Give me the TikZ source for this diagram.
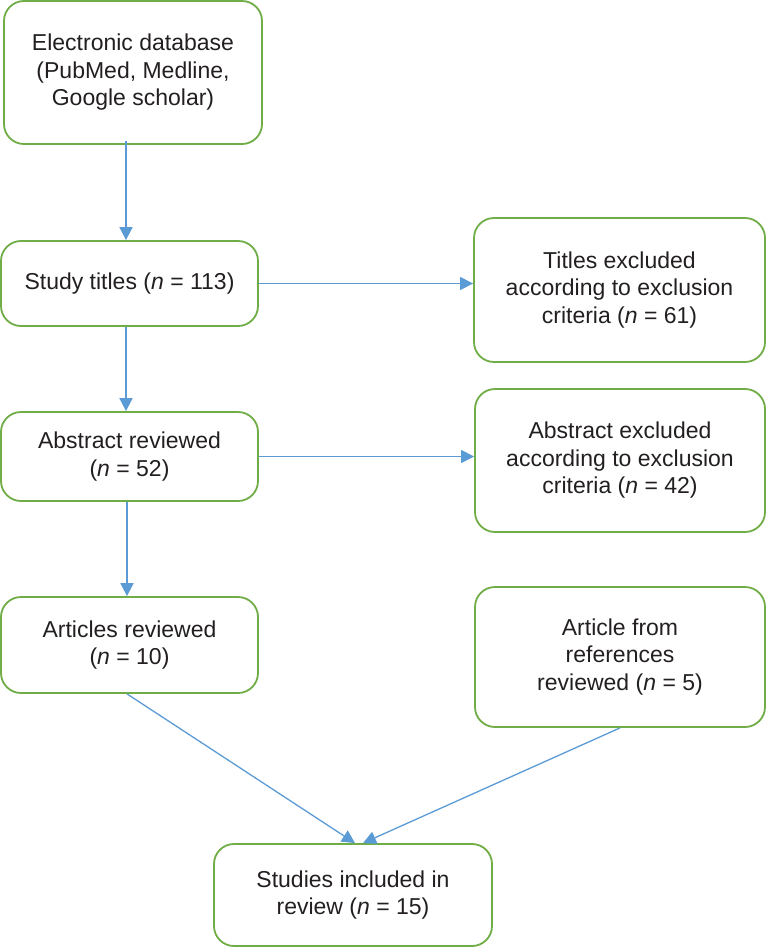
\documentclass[tikz,border=0pt]{standalone}
\usepackage{fontspec}
\setmainfont{Liberation Sans}
\usetikzlibrary{arrows.meta}
\definecolor{boxgreen}{RGB}{112,173,71}
\definecolor{arrblue}{RGB}{91,155,213}
\definecolor{txt}{RGB}{35,31,32}
\begin{document}
\begin{tikzpicture}[x=1pt,y=-1pt,
  box/.style={draw=boxgreen,line width=1.8pt,rounded corners=20pt,align=center,
    text=txt,font=\fontsize{23}{27.5}\selectfont,inner sep=0pt},
  arr/.style={draw=arrblue,line width=1.8pt,-{Triangle[length=13pt,width=13pt]}},
  arrthin/.style={draw=arrblue,line width=1.3pt,-{Triangle[length=13pt,width=13pt]}}]
\useasboundingbox (0,0) rectangle (766,947);
\node[box,minimum width=258pt,minimum height=143pt] (b1) at (133,72.5)
  {Electronic database\\(PubMed, Medline,\\Google scholar)};
\node[box,minimum width=257pt,minimum height=85pt] (b2) at (129.5,283.5)
  {Study titles (\textit{n} = 113)};
\node[box,minimum width=291pt,minimum height=144pt] (b3) at (619.5,290)
  {Titles excluded\\according to exclusion\\criteria (\textit{n} = 61)};
\node[box,minimum width=257pt,minimum height=89pt] (b4) at (129.5,456.5)
  {Abstract reviewed\\(\textit{n} = 52)};
\node[box,minimum width=290pt,minimum height=143pt] (b5) at (620,460.5)
  {Abstract excluded\\according to exclusion\\criteria (\textit{n} = 42)};
\node[box,minimum width=257pt,minimum height=96pt] (b6) at (129.5,645)
  {Articles reviewed\\(\textit{n} = 10)};
\node[box,minimum width=290pt,minimum height=140pt] (b7) at (620,657)
  {Article from\\references\\reviewed (\textit{n} = 5)};
\node[box,minimum width=278pt,minimum height=102pt] (b8) at (353,895)
  {Studies included in\\review (\textit{n} = 15)};
\coordinate (ax) at (126,0);
\coordinate (bx) at (127,0);
\coordinate (cx) at (620,0);
\draw[arr] ([yshift=4pt]b1.south -| ax) -- (b2.north -| ax);
\draw[arr] (b2.south -| ax) -- (b4.north -| ax);
\draw[arr] (b4.south -| bx) -- (b6.north -| bx);
\draw[arrthin] (b2.east) -- (b3.west |- b2.east);
\draw[arrthin] (b4.east) -- (b5.west |- b4.east);
\draw[arrthin] (b6.south -| bx) -- ([xshift=2pt]b8.north);
\draw[arrthin] (b7.south -| cx) -- ([xshift=10pt]b8.north);
\end{tikzpicture}
\end{document}
